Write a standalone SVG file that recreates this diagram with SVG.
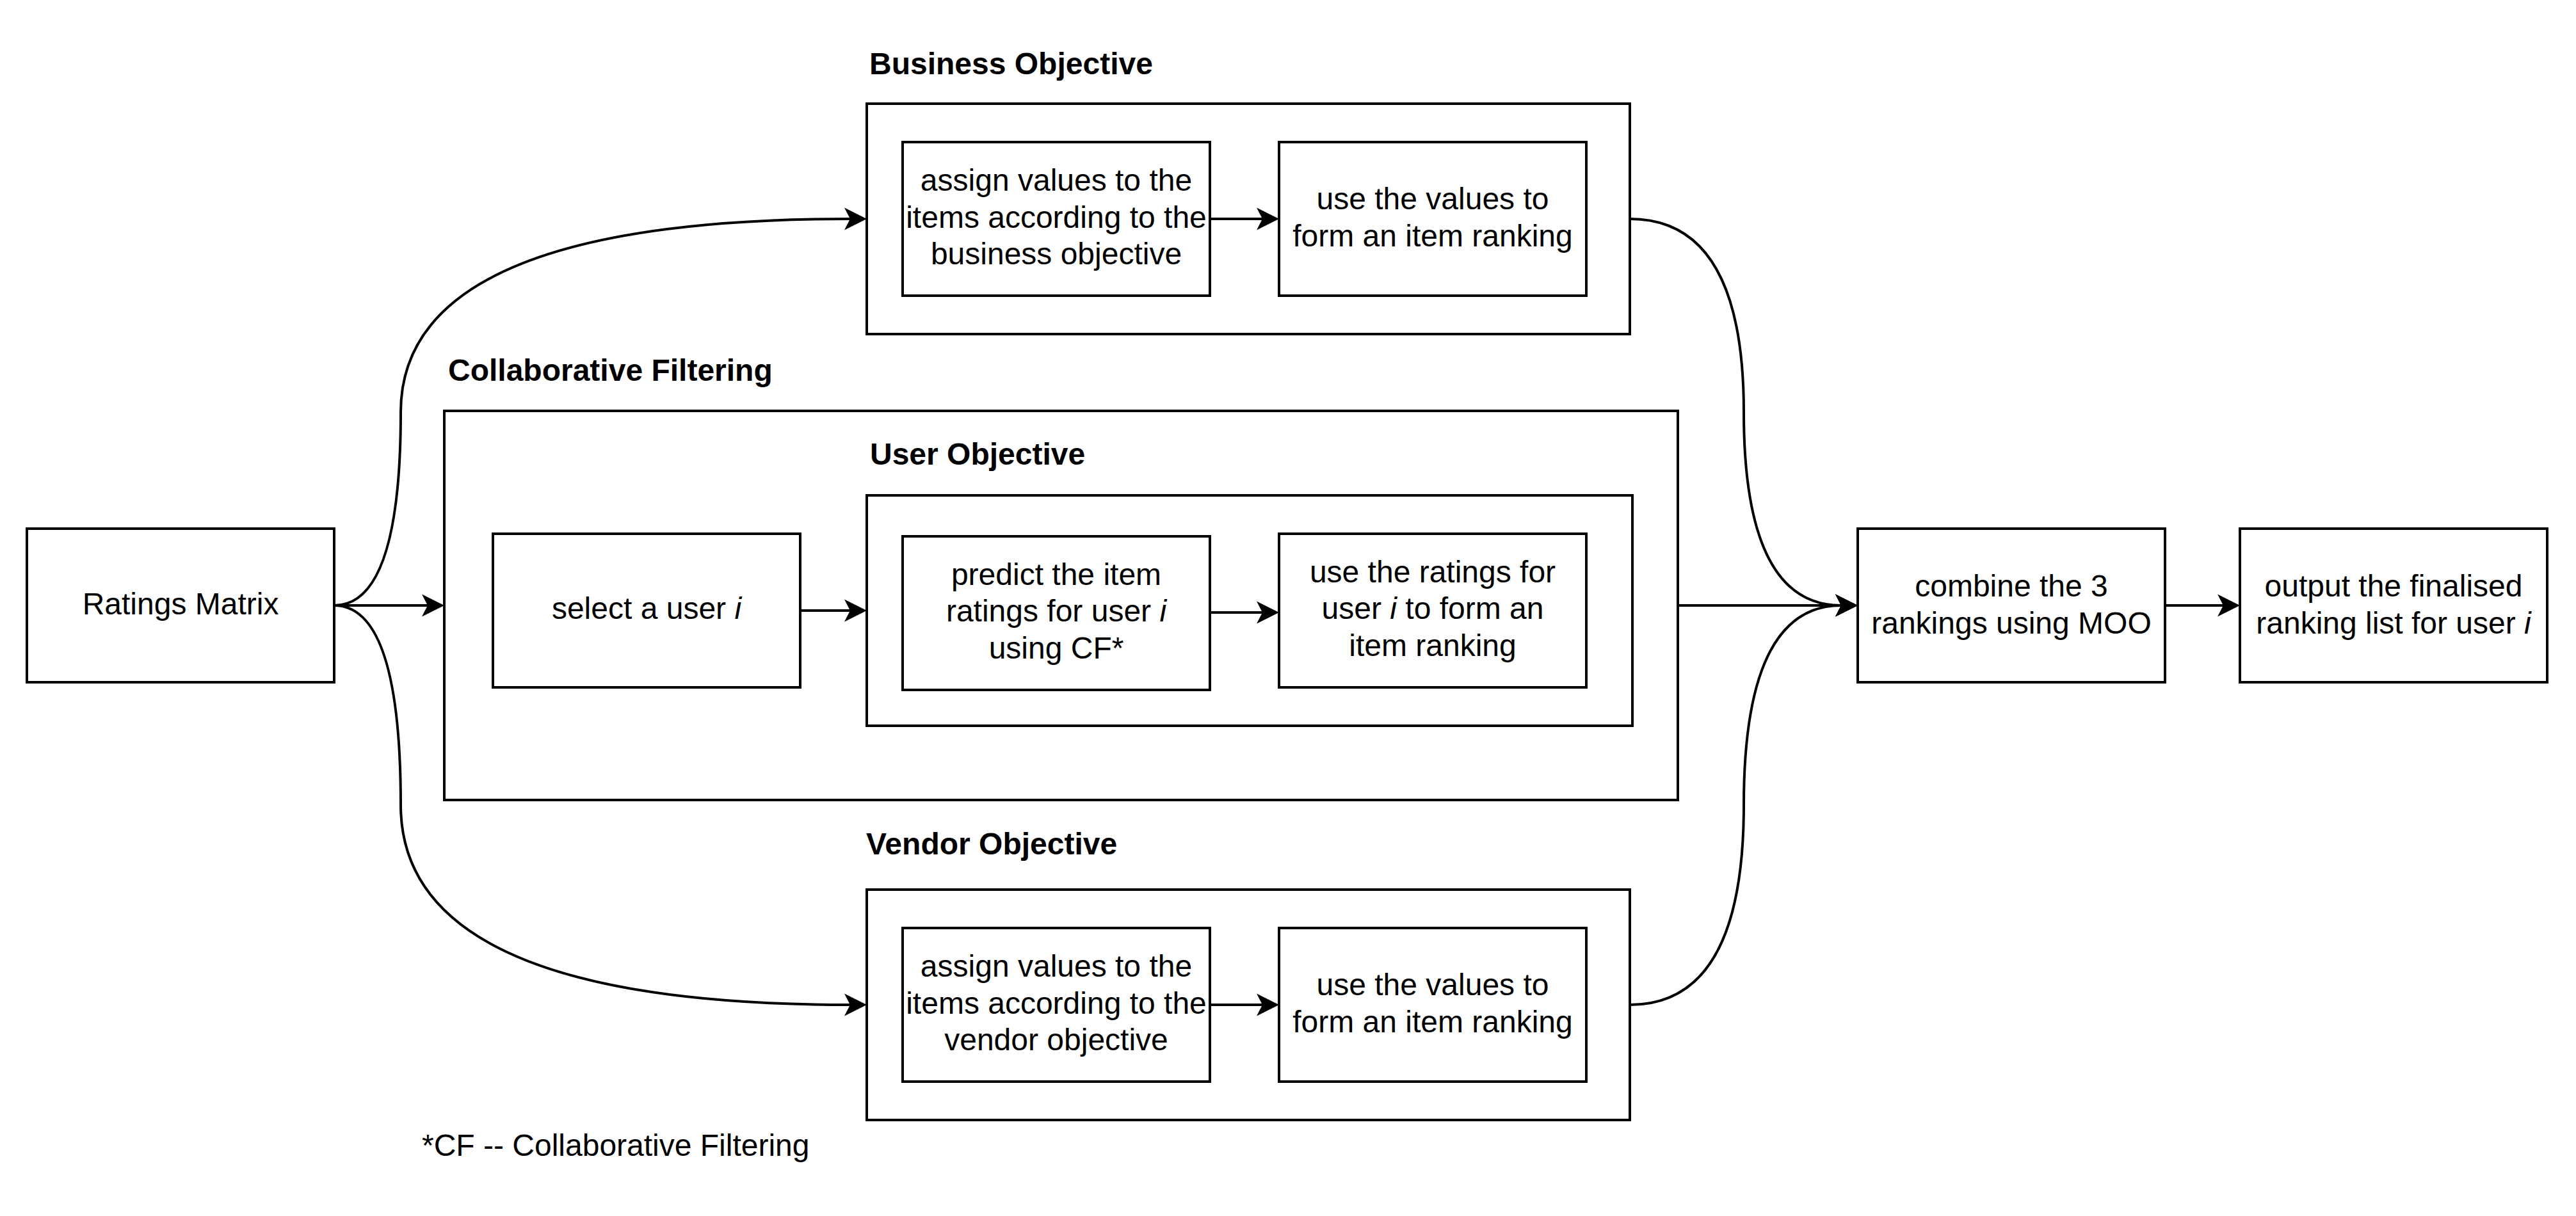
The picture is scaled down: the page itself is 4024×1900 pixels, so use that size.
<svg xmlns="http://www.w3.org/2000/svg" width="4024" height="1900" viewBox="0 0 4024 1900">
  <style>
    .box { fill: #ffffff; stroke: #000000; stroke-width: 4; }
    .t { font-family: "Liberation Sans", Arial, Helvetica, sans-serif; font-size: 48px; fill: #000000; text-anchor: middle; }
    .title { font-family: "Liberation Sans", Arial, Helvetica, sans-serif; font-size: 48px; font-weight: bold; fill: #000000; }
    .note { font-family: "Liberation Sans", Arial, Helvetica, sans-serif; font-size: 48px; fill: #000000; }
    .edge { fill: none; stroke: #000000; stroke-width: 4; marker-end: url(#arrow); }
    .it { font-style: italic; }
  </style>
  <defs>
    <marker id="arrow" markerUnits="userSpaceOnUse" markerWidth="80" markerHeight="80" refX="0" refY="0" orient="auto" overflow="visible" viewBox="-40 -40 80 80">
      <path d="M26,0 L-9,-17.5 L0,0 L-9,17.5 Z" fill="#000000" stroke="none"/>
    </marker>
  </defs>
  <rect x="0" y="0" width="4024" height="1900" fill="#ffffff"/>

  <g id="business-objective">
    <text class="title" x="1358" y="116">Business Objective</text>
    <rect class="box" x="1354" y="162" width="1192" height="360"/>
  </g>
  <g id="business-assign">
    <rect class="box" x="1410" y="222" width="480" height="240"/>
    <text class="t" x="1650" y="298">assign values to the</text>
    <text class="t" x="1650" y="356">items according to the</text>
    <text class="t" x="1650" y="413">business objective</text>
  </g>
  <g id="business-rank">
    <rect class="box" x="1998" y="222" width="480" height="240"/>
    <text class="t" x="2238" y="327">use the values to</text>
    <text class="t" x="2238" y="385">form an item ranking</text>
  </g>

  <g id="collaborative-filtering">
    <text class="title" x="700" y="595">Collaborative Filtering</text>
    <rect class="box" x="694" y="642" width="1927" height="608"/>
  </g>
  <g id="select-user">
    <rect class="box" x="770" y="834" width="480" height="240"/>
    <text class="t" x="1010" y="967">select a user <tspan class="it">i</tspan></text>
  </g>
  <g id="user-objective">
    <text class="title" x="1359" y="726">User Objective</text>
    <rect class="box" x="1354" y="774" width="1196" height="360"/>
  </g>
  <g id="predict-ratings">
    <rect class="box" x="1410" y="838" width="480" height="240"/>
    <text class="t" x="1650" y="914">predict the item</text>
    <text class="t" x="1650" y="971">ratings for user <tspan class="it">i</tspan></text>
    <text class="t" x="1650" y="1029">using CF*</text>
  </g>
  <g id="user-rank">
    <rect class="box" x="1998" y="834" width="480" height="240"/>
    <text class="t" x="2238" y="910">use the ratings for</text>
    <text class="t" x="2238" y="967">user <tspan class="it">i</tspan> to form an</text>
    <text class="t" x="2238" y="1025">item ranking</text>
  </g>

  <g id="vendor-objective">
    <text class="title" x="1353" y="1335">Vendor Objective</text>
    <rect class="box" x="1354" y="1390" width="1192" height="360"/>
  </g>
  <g id="vendor-assign">
    <rect class="box" x="1410" y="1450" width="480" height="240"/>
    <text class="t" x="1650" y="1526">assign values to the</text>
    <text class="t" x="1650" y="1584">items according to the</text>
    <text class="t" x="1650" y="1641">vendor objective</text>
  </g>
  <g id="vendor-rank">
    <rect class="box" x="1998" y="1450" width="480" height="240"/>
    <text class="t" x="2238" y="1555">use the values to</text>
    <text class="t" x="2238" y="1613">form an item ranking</text>
  </g>

  <g id="ratings-matrix">
    <rect class="box" x="42" y="826" width="480" height="240"/>
    <text class="t" x="282" y="960">Ratings Matrix</text>
  </g>
  <g id="combine">
    <rect class="box" x="2902" y="826" width="480" height="240"/>
    <text class="t" x="3142" y="932">combine the 3</text>
    <text class="t" x="3142" y="990">rankings using MOO</text>
  </g>
  <g id="output">
    <rect class="box" x="3499" y="826" width="480" height="240"/>
    <text class="t" x="3739" y="932">output the finalised</text>
    <text class="t" x="3739" y="990">ranking list for user <tspan class="it">i</tspan></text>
  </g>

  <g id="footnote">
    <text class="note" x="659" y="1806">*CF -- Collaborative Filtering</text>
  </g>

  <g id="connectors">
    <path class="edge" d="M522,946 Q626,946 626,644 Q626,342 1328,342"/>
    <path class="edge" d="M522,946 L668,946"/>
    <path class="edge" d="M522,946 Q626,946 626,1258 Q626,1570 1328,1570"/>
    <path class="edge" d="M1250,954 L1328,954"/>
    <path class="edge" d="M1890,342 L1972,342"/>
    <path class="edge" d="M1890,957 L1972,957"/>
    <path class="edge" d="M1890,1570 L1972,1570"/>
    <path class="edge" d="M2546,342 Q2724,342 2724,644 Q2724,946 2876,946"/>
    <path class="edge" d="M2621,946 L2876,946"/>
    <path class="edge" d="M2546,1570 Q2724,1570 2724,1258 Q2724,946 2876,946"/>
    <path class="edge" d="M3382,946 L3473,946"/>
  </g>
</svg>
